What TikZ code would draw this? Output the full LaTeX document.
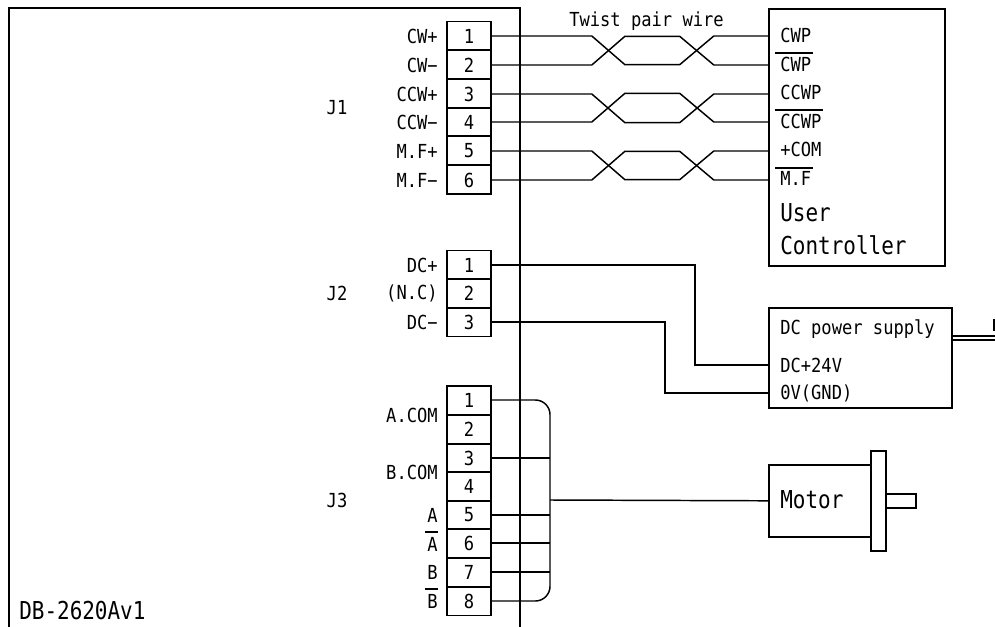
\documentclass[tikz,border=0pt]{standalone}
\usepackage{fontspec}
\setmainfont{DejaVu Sans Mono}
\newfontfamily\smallfont[FakeStretch=0.885]{DejaVu Sans Mono}
\newfontfamily\bigfont[FakeStretch=0.85]{DejaVu Sans Mono}
\usetikzlibrary{calc,positioning}
\tikzset{
  pin/.style={draw,line width=1.2pt,minimum width=33pt,minimum height=21.45pt,inner sep=0,font=\fontsize{14.5}{14.5}\selectfont\smallfont},
  siglabel/.style={left,inner sep=0,font=\fontsize{14.5}{14.5}\selectfont\smallfont},
  boxlabel/.style={right,inner sep=0,font=\fontsize{14.5}{14.5}\selectfont\smallfont},
  jlabel/.style={inner sep=0,font=\fontsize{14.5}{14.5}\selectfont\smallfont},
  bigtext/.style={right,inner sep=0,font=\fontsize{18.5}{18.5}\selectfont\bigfont},
  wire/.style={line width=1.1pt},
  bar/.style={line width=1.1pt},
  device/.style={draw,line width=1.2pt,inner sep=0,anchor=north west}
}
\begin{document}
\begin{tikzpicture}[x=0.75pt,y=-0.75pt]
\useasboundingbox (0,0) rectangle (995,627);
% board outline
\coordinate (BL) at (9,627);
\coordinate (BT) at (9,8);
\coordinate (BR) at (520,8);
\coordinate (BE) at (520,627);
\draw[wire] (BL)--(BT)--(BR)--(BE);
\node[bigtext] (board) at (19,611) {DB-2620Av1};
% devices
\node[device,minimum width=132pt,minimum height=192.75pt] (ctrl) at (768,8) {};
\node[device,minimum width=137.25pt,minimum height=75pt] (psu) at (768,307) {};
\node[device,minimum width=76.5pt,minimum height=54pt] (motor) at (768,464) {};
\node[device,minimum width=11.25pt,minimum height=75pt] (flange) at (870,450) {};
\node[device,minimum width=22.5pt,minimum height=10.5pt] (shaft) at (885,493) {};
% J1
\node[jlabel] (J1) at (337,108) {J1};
\foreach \n/\y/\s in {1/36/CW+,2/65/CW−,3/94/CCW+,4/122/CCW−,5/151/M.F+,6/180/M.F−}{
  \node[pin] (a\n) at (469,\y) {\n};
  \node[siglabel] (sa\n) at (438,\y) {\s};
}
% J2
\node[jlabel] (J2) at (337,293) {J2};
\foreach \n/\y/\s in {1/265/DC+,2/293/(N.C),3/322/DC−}{
  \node[pin] (b\n) at (469,\y) {\n};
  \node[siglabel] (sb\n) at (438,\y) {\s};
}
% J3
\node[jlabel] (J3) at (337,500) {J3};
\foreach \n/\y in {1/400,2/429,3/458,4/486,5/515,6/543,7/572,8/601}{
  \node[pin] (c\n) at (469,\y) {\n};
}
\node[siglabel] (sc1) at (438,415) {A.COM};
\node[siglabel] (sc3) at (438,472) {B.COM};
\node[siglabel] (sc5) at (438,515) {A};
\node[siglabel] (sc6) at (438,544) {A};
\node[siglabel] (sc7) at (438,572) {B};
\node[siglabel] (sc8) at (438,601) {B};
\draw[bar] (425,532)--(438,532);
\draw[bar] (425,589)--(438,589);
% controller labels
\foreach \t/\y/\s in {a/35/CWP,b/64/CWP,c/92/CCWP,d/121/CCWP,e/149/+COM,f/178/M.F}{
  \node[boxlabel] (ct\t) at (780,\y) {\s};
}
\draw[bar] (775,53)--(813,53);
\draw[bar] (775,110)--(823,110);
\draw[bar] (775,168)--(813,168);
\node[bigtext] (user) at (780,213) {User};
\node[bigtext] (contr) at (780,245) {Controller};
% power supply labels
\node[boxlabel] (dctitle) at (780,329) {DC power supply};
\node[boxlabel] (dcplus) at (780,365) {DC+24V};
\node[boxlabel] (dcgnd) at (780,393) {0V(GND)};
\node[bigtext] (mtext) at (780,500) {Motor};
% twisted pairs
\node[right,inner sep=0,font=\fontsize{14.5}{14.5}\selectfont\smallfont] (twist) at (569,21) {Twist pair wire};
\foreach \p/\q in {1/2,3/4,5/6}{
  \draw[wire] (a\p.east)--++(100,0)--++(33,28.6)--++(55,0)--++(34,-28.6)--(a\p -| ctrl.west);
  \draw[wire] (a\q.east)--++(100,0)--++(33,-28.6)--++(55,0)--++(34,28.6)--(a\q -| ctrl.west);
}
% DC supply wires
\coordinate (dcp) at (695,365);
\coordinate (dcm) at (665,393);
\draw[wire] (b1.east)-|(dcp)--(psu.west |- dcp);
\draw[wire] (b3.east)-|(dcm)--(psu.west |- dcm);
% cable leaving the supply
\coordinate (cabA) at (995,336);
\coordinate (cabB) at (995,340);
\draw[wire] (psu.east |- cabA)--(cabA);
\draw[wire] (psu.east |- cabB)--(cabB);
\draw[line width=1pt] (994,319)--(994,331);
% motor bus
\coordinate (bus) at (550,500);
\draw[wire,rounded corners=11pt] (c1.east)-|(bus)|-(c8.east);
\foreach \n in {3,5,6,7}{
  \draw[wire] (c\n.east)--(c\n -| bus);
}
\draw[wire] (bus)--(motor.west);
\end{tikzpicture}
\end{document}
